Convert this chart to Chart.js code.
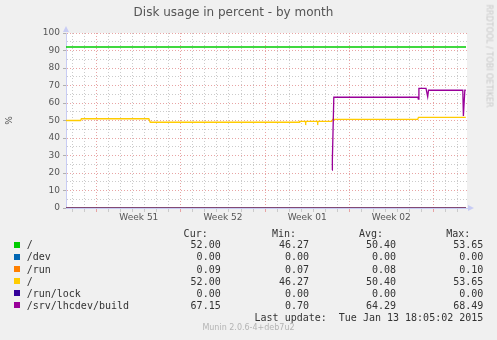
<!DOCTYPE html>
<html>
<head>
<meta charset="utf-8">
<title>Disk usage in percent - by month</title>
<script src="https://cdn.jsdelivr.net/npm/chart.js@4.4.1/dist/chart.umd.min.js"></script>
<style>
  html, body { margin: 0; padding: 0; background: #f0f0f0; }
  #wrap { position: relative; width: 497px; height: 340px; overflow: hidden; }
  #chart { position: absolute; left: 0; top: 0; }
  .mono { position: absolute; font: 10px "DejaVu Sans Mono", monospace; color: #333; line-height: 12px; white-space: pre; }
  .sq { position: absolute; width: 6px; height: 6px; }
  #rrd { position: absolute; left: 489px; top: 56px; transform: translate(-50%, -50%) rotate(90deg);
         font: 8px "DejaVu Sans", sans-serif; color: #c8c8c8; white-space: nowrap; }
  #munin { position: absolute; left: 0; width: 497px; top: 322px; text-align: center;
           font: 8px "DejaVu Sans", sans-serif; color: #b4b4b4; line-height: 12px; }
</style>
</head>
<body>
<div id="wrap">
  <canvas id="chart" width="497" height="340"></canvas>
  <div id="legend"></div>
  <div id="rrd">RRDTOOL / TOBI OETIKER</div>
  <div id="munin">Munin 2.0.6-4+deb7u2</div>
</div>
<script>
// x values are days, counted from the first daily grid line
const xStart = -0.56, xEnd = 32.8;
const weekStarts = [2, 9, 16, 23, 30];
const weekLabels = ['Week 51', 'Week 52', 'Week 01', 'Week 02'];
const yMajor = [0, 10, 20, 30, 40, 50, 60, 70, 80, 90, 100];
const yMinor = [5, 15, 25, 35, 45, 55, 65, 75, 85, 95];

const seriesNames = ['/', '/dev', '/run', '/', '/run/lock', '/srv/lhcdev/build'];
const seriesColors = ['#00cc00', '#0066b3', '#ff8000', '#ffcc00', '#330099', '#990099'];
const curVals = ['52.00', '0.00', '0.09', '52.00', '0.00', '67.15'];
const minVals = ['46.27', '0.00', '0.07', '46.27', '0.00', '0.70'];
const avgVals = ['50.40', '0.00', '0.08', '50.40', '0.00', '64.29'];
const maxVals = ['53.65', '0.00', '0.10', '53.65', '0.00', '68.49'];

const rootDays = [-0.56, 32.72];
const rootVals = [92, 92];
const devDays = [-0.56, 32.72];
const devVals = [0, 0];
const runDays = [-0.56, 32.72];
const runVals = [0.08, 0.08];
const root2Days = [-0.56, 0.66, 0.72, 6.33, 6.45, 18.83, 18.88, 19.33, 19.38, 19.43, 20.33, 20.38, 20.43, 21.55, 21.62, 28.7, 28.76, 32.7];
const root2Vals = [50.0, 50.0, 51.0, 51.0, 49.0, 49.0, 49.5, 49.5, 48.8, 49.5, 49.5, 48.8, 49.5, 49.5, 50.6, 50.6, 51.8, 51.8];
const lockDays = [-0.56, 32.72];
const lockVals = [0, 0];
const buildDays = [21.57, 21.6, 21.72, 28.72, 28.75, 28.8, 29.39, 29.53, 29.6, 32.45, 32.5, 32.62, 32.7];
const buildVals = [21.7, 27.5, 63.3, 63.3, 62.2, 68.4, 68.4, 63.6, 67.3, 67.3, 52.6, 67.3, 67.3];

const lastUpdate = 'Last update:  Tue Jan 13 18:05:02 2015';

const seriesDays = [rootDays, devDays, runDays, root2Days, lockDays, buildDays];
const seriesVals = [rootVals, devVals, runVals, root2Vals, lockVals, buildVals];

const toPts = (xs, ys) => xs.map((x, i) => ({ x: x, y: ys[i] }));

const datasets = seriesNames.map((name, i) => ({
  label: name,
  data: toPts(seriesDays[i], seriesVals[i]),
  borderColor: seriesColors[i],
  backgroundColor: seriesColors[i],
  // the flat zero lines sit on the axis and come out soft, like in rrdtool
  borderWidth: Math.max(...seriesVals[i]) < 1 ? 1 : 1.3,
  pointRadius: 0,
  tension: 0,
  fill: false,
  order: seriesNames.length - i
}));

// x ticks: one per day for the grid, plus one in the middle of each week for the label
const weekMid = {};
weekLabels.forEach((l, i) => { weekMid[weekStarts[i] + 3.5] = l; });
const xTicks = [];
for (let d = 0; d <= 32; d++) xTicks.push(d);
Object.keys(weekMid).forEach(k => xTicks.push(Number(k)));
xTicks.sort((a, b) => a - b);

const RED = '#e8a4a4', GRAY = '#cbcbcb', AXIS = '#c8ccf4';

const plotBg = {
  id: 'plotBg',
  beforeDraw(chart) {
    const a = chart.chartArea, ctx = chart.ctx;
    ctx.save();
    ctx.fillStyle = '#ffffff';
    ctx.fillRect(a.left, a.top, a.right - a.left, a.bottom - a.top);
    ctx.restore();
  }
};

const arrows = {
  id: 'arrows',
  afterDraw(chart) {
    const a = chart.chartArea, ctx = chart.ctx;
    ctx.save();
    ctx.fillStyle = AXIS;
    ctx.beginPath();
    ctx.moveTo(a.left, a.top - 7);
    ctx.lineTo(a.left - 3, a.top - 1);
    ctx.lineTo(a.left + 3, a.top - 1);
    ctx.fill();
    ctx.beginPath();
    ctx.moveTo(a.right + 7, a.bottom);
    ctx.lineTo(a.right + 1, a.bottom - 3);
    ctx.lineTo(a.right + 1, a.bottom + 3);
    ctx.fill();
    ctx.restore();
  }
};

new Chart(document.getElementById('chart'), {
  type: 'line',
  data: { datasets: datasets },
  options: {
    responsive: false,
    animation: false,
    devicePixelRatio: 1,
    layout: { padding: { top: 0, left: 0, right: 30, bottom: 112 } },
    plugins: {
      legend: { display: false },
      tooltip: { enabled: false },
      title: {
        display: true,
        text: 'Disk usage in percent - by month',
        color: '#555',
        font: { family: 'DejaVu Sans', size: 12, weight: 'normal' },
        padding: { top: 6, bottom: 12.6 }
      }
    },
    scales: {
      x: {
        type: 'linear',
        min: xStart,
        max: xEnd,
        afterBuildTicks: axis => { axis.ticks = xTicks.map(v => ({ value: v })); },
        afterFit: s => { s.height = 20; },
        grid: {
          color: c => {
            const v = c.tick ? c.tick.value : null;
            if (v === null || weekMid[v]) return 'rgba(0,0,0,0)';
            return weekStarts.includes(v) ? RED : GRAY;
          },
          tickLength: 4,
          lineWidth: 1
        },
        border: { color: AXIS, dash: [1, 2] },
        ticks: {
          autoSkip: false,
          maxRotation: 0,
          padding: 0,
          color: '#555',
          font: { family: 'DejaVu Sans', size: 9 },
          callback: v => weekMid[v] || ''
        }
      },
      y: {
        min: 0,
        max: 100,
        afterBuildTicks: axis => {
          axis.ticks = yMajor.concat(yMinor).sort((a, b) => a - b).map(v => ({ value: v }));
        },
        afterFit: s => { s.width = 66; },
        grid: {
          color: c => (c.tick && c.tick.value % 10 === 0) ? RED : GRAY,
          tickColor: c => (c.tick && c.tick.value % 10 === 0) ? '#b0b0b0' : 'rgba(0,0,0,0)',
          tickLength: 3
        },
        border: { color: AXIS, dash: [1, 2] },
        title: {
          display: true,
          text: '%',
          color: '#555',
          font: { family: 'DejaVu Sans', size: 9 },
          padding: { top: 4, bottom: 0 }
        },
        ticks: {
          autoSkip: false,
          padding: 3,
          color: '#555',
          font: { family: 'DejaVu Sans', size: 9 },
          callback: v => (yMajor.includes(v) ? String(v) : '')
        }
      }
    }
  },
  plugins: [plotBg, arrows]
});

// munin style legend table
const legend = document.getElementById('legend');
const colRight = [220.7, 309, 396, 483.3];
const heads = ['Cur:', 'Min:', 'Avg:', 'Max:'];
function put(text, top, right, left) {
  const d = document.createElement('div');
  d.className = 'mono';
  d.textContent = text;
  d.style.top = top + 'px';
  if (right !== null) d.style.right = (497 - right) + 'px';
  else d.style.left = left + 'px';
  legend.appendChild(d);
}
heads.forEach((h, j) => put(h, 227.7, colRight[j] - 13, null));
seriesNames.forEach((name, i) => {
  const cy = 245.3 + i * 12.1;
  const sq = document.createElement('div');
  sq.className = 'sq';
  sq.style.left = '14px';
  sq.style.top = (cy - 3.5) + 'px';
  sq.style.background = seriesColors[i];
  legend.appendChild(sq);
  put(name, cy - 6, null, 26.7);
  [curVals[i], minVals[i], avgVals[i], maxVals[i]].forEach((v, j) => put(v, cy - 6, colRight[j], null));
});
put(lastUpdate, 245.3 + 6 * 12.1 - 6, colRight[3], null);
</script>
</body>
</html>
